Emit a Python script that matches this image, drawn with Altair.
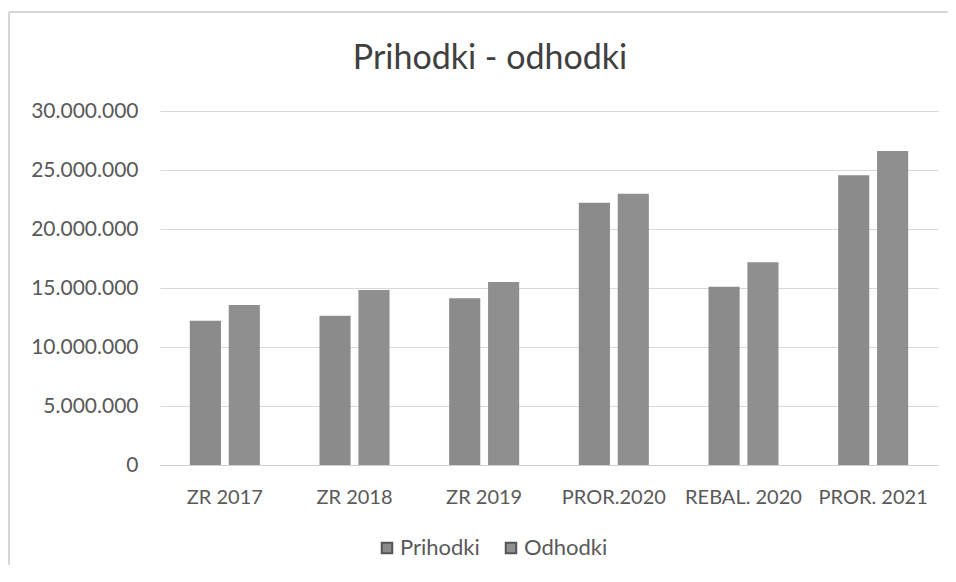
import altair as alt
import pandas as pd

title_text = "Prihodki - odhodki"
categories = ["ZR 2017", "ZR 2018", "ZR 2019", "PROR.2020", "REBAL. 2020", "PROR. 2021"]
prihodki = [12230000, 12650000, 14130000, 22230000, 15110000, 24550000]
odhodki = [13560000, 14830000, 15510000, 22990000, 17180000, 26610000]
series = ["Prihodki", "Odhodki"]
y_ticks = [0, 5000000, 10000000, 15000000, 20000000, 25000000, 30000000]

rows = []
for c, p, o in zip(categories, prihodki, odhodki):
    rows.append({"cat": c, "serie": series[0], "val": p})
    rows.append({"cat": c, "serie": series[1], "val": o})
df = pd.DataFrame(rows)

FONT = "Lato"
TXT = "#595959"

bars = alt.Chart(df).mark_bar().encode(
    x=alt.X("cat:N", sort=categories, title=None,
            scale=alt.Scale(paddingInner=0.46, paddingOuter=0.23),
            axis=alt.Axis(labelAngle=0, ticks=False, domain=True, domainColor="#d0d0d0",
                          labelFontSize=20, labelColor=TXT, labelFont=FONT, labelPadding=22,
                          grid=False)),
    xOffset=alt.XOffset("serie:N", sort=series, scale=alt.Scale(paddingInner=0.2)),
    y=alt.Y("val:Q", title=None,
            scale=alt.Scale(domain=[0, 30000000], nice=False),
            axis=alt.Axis(values=y_ticks, ticks=False, domain=False, gridColor="#d9d9d9",
                          gridWidth=1.2, labelFontSize=21, labelColor=TXT, labelFont=FONT,
                          labelPadding=22,
                          labelExpr="replace(format(datum.value, ','), /,/g, '.')")),
    color=alt.Color("serie:N", sort=series,
                    scale=alt.Scale(domain=series, range=["#8b8b8b", "#8f8f8f"]),
                    legend=alt.Legend(title=None, orient="none", direction="horizontal",
                                      legendX=216, legendY=426, symbolType="square",
                                      symbolSize=110, symbolStrokeColor="#555555",
                                      symbolStrokeWidth=2, labelFontSize=22, labelColor=TXT,
                                      labelFont=FONT, columnPadding=20, symbolOffset=0,
                                      labelOffset=2)),
)

title = alt.Chart(pd.DataFrame({"t": [title_text]})).mark_text(
    font=FONT, fontSize=34, color="#404040", align="center", baseline="alphabetic"
).encode(text="t:N", x=alt.value(330), y=alt.value(-42))

frame_top = alt.Chart(df).mark_rule(color="#d6d6d6", strokeWidth=2).encode(
    x=alt.value(-151), x2=alt.value(800), y=alt.value(-99))
frame_left = alt.Chart(df).mark_rule(color="#d6d6d6", strokeWidth=2).encode(
    x=alt.value(-151), y=alt.value(-99), y2=alt.value(470))

chart = alt.layer(bars, title, frame_top, frame_left).properties(
    width=778, height=354,
    padding={"left": 152, "top": 103, "right": 10, "bottom": 100},
    autosize=alt.AutoSizeParams(type="none"),
).configure_view(stroke=None)

chart.save("out.html", embed_options={"renderer": "svg", "actions": False})
